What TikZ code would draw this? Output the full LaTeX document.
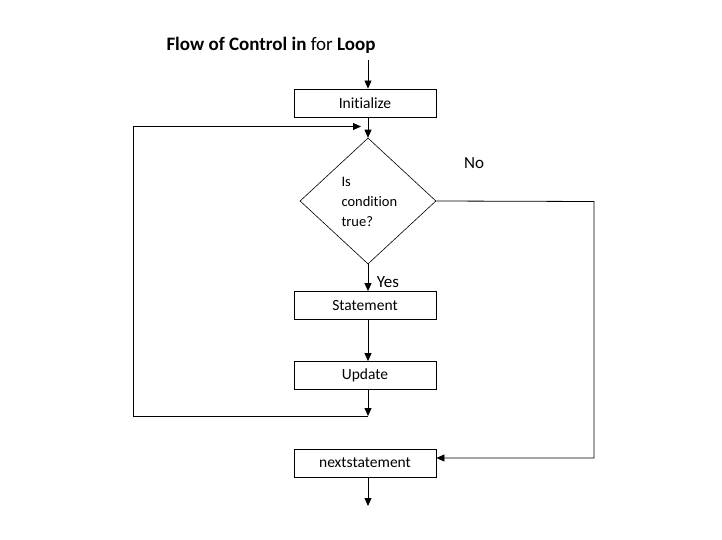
\documentclass[tikz,border=0pt]{standalone}
\usepackage{fontspec}
\setmainfont[Ligatures={NoCommon}]{Carlito}
\usetikzlibrary{shapes.geometric,arrows.meta}
\begin{document}
\begin{tikzpicture}[x=1pt,y=-1pt,
  box/.style={draw,line width=0.8pt,minimum width=142pt,minimum height=28pt,inner sep=0pt,font=\fontsize{15.5}{18}\selectfont},
  flow/.style={line width=0.8pt,-{Triangle[length=8pt,width=7pt]}},
  plain/.style={line width=0.8pt}]
\useasboundingbox (0,0) rectangle (722,540);
\node[font=\fontsize{19}{22}\selectfont] (title) at (271,45) {\textbf{Flow of Control in} for \textbf{Loop}};
\coordinate (start) at (368,60);
\node[box] (init) at (365,103) {Initialize};
\node[draw,line width=0.6pt,minimum width=136pt,minimum height=126pt,inner sep=0pt,diamond,aspect=1.08] (cond) at (368,201) {};
\node[font=\fontsize{14.5}{20}\selectfont,align=left,anchor=north west] (condtext) at (338,173.5) {Is\\condition\\true?};
\node[box] (stmt) at (365,305.5) {Statement};
\node[box] (upd) at (365,375.5) {Update};
\node[box] (next) at (365,463) {nextstatement};
\coordinate (merge) at (368,416);
\coordinate (bl) at (133,416);
\coordinate (tl) at (133,126.5);
\coordinate (tr) at (368,126.5);
\coordinate (rr) at (594,201.5);
\coordinate (rb) at (594,458);
\coordinate (end) at (368,506);
\node[font=\fontsize{17}{20}\selectfont] (no) at (474,163) {No};
\node[font=\fontsize{17}{20}\selectfont] (yes) at (388,282) {Yes};
\draw[flow] (start) -- (start |- init.north);
\draw[flow] (init.south -| cond.north) -- (cond.north);
\draw[flow] (cond.south) -- (cond.south |- stmt.north);
\draw[flow] (stmt.south -| cond.south) -- (upd.north -| cond.south);
\draw[flow] (upd.south -| cond.south) -- (merge);
\draw[flow] (merge) -- (bl) -- (tl) -- ([xshift=-7pt]tr);
\draw[flow] (cond.east) -- (rr) -- (rb) -- (next.east |- rb);
\draw[flow] (next.south -| cond.south) -- (end);
\end{tikzpicture}
\end{document}
